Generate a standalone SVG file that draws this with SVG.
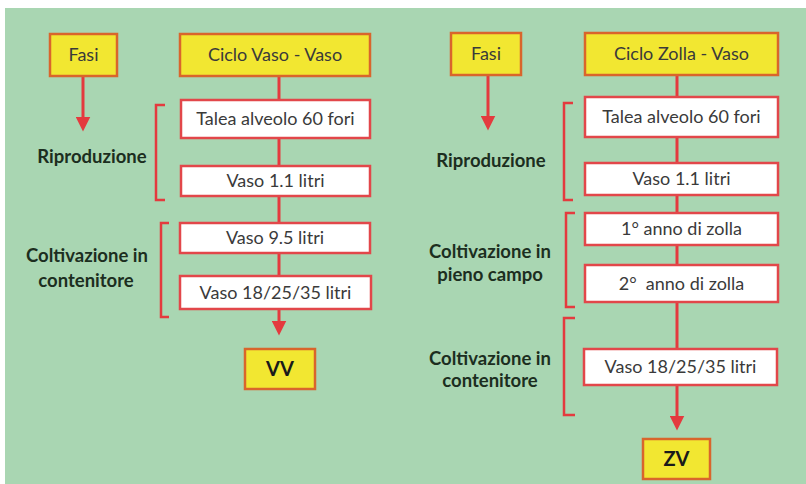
<svg xmlns="http://www.w3.org/2000/svg" width="806" height="484" viewBox="0 0 806 484">
<defs>
<style>
.bg{fill:#a9d6b2}
.ybox{fill:#f2e731;stroke:#d9652c;stroke-width:2.5}
.wbox{fill:#ffffff;stroke:#e2474a;stroke-width:2.5}
.bt{font-family:Lato,"Liberation Sans",sans-serif;font-size:18px;fill:#3a3a3a;text-anchor:middle}
.yt{font-family:Lato,"Liberation Sans",sans-serif;font-size:18px;fill:#3a3a3a;text-anchor:middle}
.bold{font-family:Lato,"Liberation Sans",sans-serif;font-size:18.5px;font-weight:bold;fill:#1c2e20;text-anchor:middle}
.big{font-family:Lato,"Liberation Sans",sans-serif;font-size:20px;font-weight:bold;fill:#1a1a1a;text-anchor:middle}
.line{stroke:#e43a3e;stroke-width:3;fill:none}
.br{stroke:#e43a3e;stroke-width:2.5;fill:none}
</style>
<marker id="ah" markerWidth="5" markerHeight="5" refX="2.5" refY="2.5" orient="auto" markerUnits="strokeWidth" viewBox="0 0 5 5">
<path d="M0,0 L5,2.5 L0,5 z" fill="#e43a3e"/>
</marker>
</defs>
<rect x="0" y="0" width="806" height="484" fill="#ffffff"/>
<rect class="bg" x="5" y="8" width="801" height="476"/>

<g id="connectors">
<line class="line" x1="83" y1="76" x2="83" y2="124" marker-end="url(#ah)"/>
<line class="line" x1="279" y1="76" x2="279" y2="100"/>
<line class="line" x1="279" y1="138" x2="279" y2="166"/>
<line class="line" x1="279" y1="196" x2="279" y2="223"/>
<line class="line" x1="279" y1="253" x2="279" y2="276"/>
<line class="line" x1="279" y1="309" x2="279" y2="328" marker-end="url(#ah)"/>
<line class="line" x1="488" y1="75" x2="488" y2="123" marker-end="url(#ah)"/>
<line class="line" x1="677" y1="75" x2="677" y2="97"/>
<line class="line" x1="677" y1="137" x2="677" y2="163"/>
<line class="line" x1="677" y1="195" x2="677" y2="213"/>
<line class="line" x1="677" y1="245" x2="677" y2="265"/>
<line class="line" x1="677" y1="302" x2="677" y2="349"/>
<line class="line" x1="677" y1="385" x2="677" y2="423" marker-end="url(#ah)"/>
</g>

<g id="brackets">
<path class="br" d="M165,105 H156 V200 H165"/>
<path class="br" d="M169,223 H161 V317 H169"/>
<path class="br" d="M573,103 H564 V200 H573"/>
<path class="br" d="M575,213 H566 V307 H575"/>
<path class="br" d="M575,318 H564 V415 H575"/>
</g>

<g id="left-fasi"><rect class="ybox" x="50" y="34" width="67" height="42"/><text class="yt" x="83.5" y="61">Fasi</text></g>
<g id="left-ciclo"><rect class="ybox" x="180" y="34" width="190" height="42"/><text class="yt" x="275" y="61">Ciclo Vaso - Vaso</text></g>
<g id="left-talea"><rect class="wbox" x="181" y="100" width="189" height="38"/><text class="bt" x="275.5" y="125">Talea alveolo 60 fori</text></g>
<g id="left-vaso11"><rect class="wbox" x="181" y="166" width="189" height="30"/><text class="bt" x="275.5" y="187">Vaso 1.1 litri</text></g>
<g id="left-vaso95"><rect class="wbox" x="180" y="223" width="190" height="30"/><text class="bt" x="275" y="244">Vaso 9.5 litri</text></g>
<g id="left-vaso18"><rect class="wbox" x="180" y="276" width="191" height="33"/><text class="bt" x="275.5" y="299">Vaso 18/25/35 litri</text></g>
<g id="left-vv"><rect class="ybox" x="245" y="349" width="70" height="40"/><text class="big" x="280" y="376">VV</text></g>

<g id="left-riproduzione"><text class="bold" x="92" y="163">Riproduzione</text></g>
<g id="left-coltivazione"><text class="bold" x="87" y="262">Coltivazione in</text><text class="bold" x="86" y="287">contenitore</text></g>

<g id="right-fasi"><rect class="ybox" x="451" y="33" width="70" height="42"/><text class="yt" x="486" y="60">Fasi</text></g>
<g id="right-ciclo"><rect class="ybox" x="585" y="33" width="193" height="42"/><text class="yt" x="681.5" y="60">Ciclo Zolla - Vaso</text></g>
<g id="right-talea"><rect class="wbox" x="585" y="97" width="193" height="40"/><text class="bt" x="681.5" y="123">Talea alveolo 60 fori</text></g>
<g id="right-vaso11"><rect class="wbox" x="585" y="163" width="193" height="32"/><text class="bt" x="681.5" y="185">Vaso 1.1 litri</text></g>
<g id="right-anno1"><rect class="wbox" x="585" y="213" width="193" height="32"/><text class="bt" x="681.5" y="235">1° anno di zolla</text></g>
<g id="right-anno2"><rect class="wbox" x="585" y="265" width="193" height="37"/><text class="bt" x="681.5" y="290" style="white-space:pre">2°  anno di zolla</text></g>
<g id="right-vaso18"><rect class="wbox" x="584" y="349" width="193" height="36"/><text class="bt" x="680.5" y="373">Vaso 18/25/35 litri</text></g>
<g id="right-zv"><rect class="ybox" x="643" y="439" width="67" height="40"/><text class="big" x="676.5" y="466">ZV</text></g>

<g id="right-riproduzione"><text class="bold" x="491" y="167">Riproduzione</text></g>
<g id="right-pieno"><text class="bold" x="490" y="258">Coltivazione in</text><text class="bold" x="490" y="281">pieno campo</text></g>
<g id="right-contenitore"><text class="bold" x="490" y="365">Coltivazione in</text><text class="bold" x="490" y="387">contenitore</text></g>
</svg>
